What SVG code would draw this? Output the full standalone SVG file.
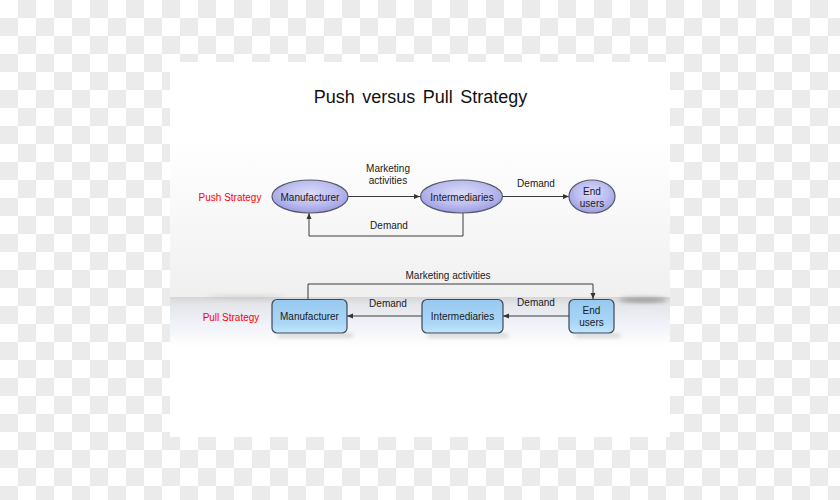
<svg xmlns="http://www.w3.org/2000/svg" width="840" height="500" viewBox="0 0 840 500">
  <defs>
    <pattern id="checker" width="36" height="36" patternUnits="userSpaceOnUse">
      <rect width="36" height="36" fill="#ffffff"/>
      <rect x="18" y="0" width="18" height="18" fill="#ebebeb"/>
      <rect x="0" y="18" width="18" height="18" fill="#ebebeb"/>
    </pattern>
    <linearGradient id="pushBand" x1="0" y1="0" x2="0" y2="1">
      <stop offset="0" stop-color="#ffffff"/>
      <stop offset="1" stop-color="#f0f0f0"/>
    </linearGradient>
    <linearGradient id="shelf" x1="0" y1="0" x2="0" y2="1">
      <stop offset="0" stop-color="#d6d6d6"/>
      <stop offset="0.15" stop-color="#e4e6ea"/>
      <stop offset="0.5" stop-color="#eef1f7"/>
      <stop offset="1" stop-color="#ffffff"/>
    </linearGradient>
    <radialGradient id="ellFill" cx="0.5" cy="0.4" r="0.6">
      <stop offset="0" stop-color="#dadaf8"/>
      <stop offset="0.6" stop-color="#bcbcf0"/>
      <stop offset="1" stop-color="#9c9ce2"/>
    </radialGradient>
    <linearGradient id="boxFill" x1="0" y1="0" x2="0" y2="1">
      <stop offset="0" stop-color="#98c9f0"/>
      <stop offset="0.7" stop-color="#aad6f7"/>
      <stop offset="1" stop-color="#c2e5fb"/>
    </linearGradient>
    <filter id="blur" x="-20%" y="-200%" width="140%" height="500%">
      <feGaussianBlur stdDeviation="2"/>
    </filter>
    <marker id="arr" markerWidth="6" markerHeight="6" refX="6" refY="3" orient="auto" markerUnits="userSpaceOnUse">
      <path d="M0,0.5 L6,3 L0,5.5 z" fill="#333"/>
    </marker>
    <style>
      .lbl { font-family: "Liberation Sans", Arial, sans-serif; font-size: 10px; fill: #1a1a1a; text-anchor: middle; }
      .red { font-family: "Liberation Sans", Arial, sans-serif; font-size: 10px; fill: #ff0000; text-anchor: middle; }
      .title { font-family: "Liberation Sans", Arial, sans-serif; font-size: 18px; fill: #111; text-anchor: middle; word-spacing: 2.5px; }
      .ell { fill: url(#ellFill); stroke: #555a66; stroke-width: 1.2; }
      .box { fill: url(#boxFill); stroke: #3c4856; stroke-width: 1.2; }
      .conn { fill: none; stroke: #3a3a3a; stroke-width: 1; }
      .shadow { fill: #9a9a9a; opacity: 0.5; filter: url(#blur); }
    </style>
  </defs>

  <!-- background -->
  <rect width="840" height="500" fill="url(#checker)"/>
  <rect x="170" y="62" width="500" height="375" fill="#ffffff"/>
  <rect x="170" y="140" width="500" height="157" fill="url(#pushBand)"/>
  <rect x="170" y="297" width="500" height="50" fill="url(#shelf)"/>
  <ellipse cx="643" cy="300" rx="24" ry="2.5" fill="#777" opacity="0.7" filter="url(#blur)"/>
  <ellipse cx="245" cy="297" rx="40" ry="1.5" fill="#bbb" opacity="0.6" filter="url(#blur)"/>

  <text class="title" x="420.5" y="103">Push versus Pull Strategy</text>

  <text class="red" x="230" y="200.5">Push Strategy</text>
  <text class="red" x="231" y="320.5">Pull Strategy</text>

  <!-- connectors -->
  <g id="connectors">
    <path class="conn" d="M348,196.5 H420" marker-end="url(#arr)"/>
    <path class="conn" d="M502,196.5 H569" marker-end="url(#arr)"/>
    <path class="conn" d="M463,213 V236 H309 V213" marker-end="url(#arr)"/>
    <path class="conn" d="M308,299 V284 H593 V299" marker-end="url(#arr)"/>
    <path class="conn" d="M422,316 H347" marker-end="url(#arr)"/>
    <path class="conn" d="M569,316 H503" marker-end="url(#arr)"/>
    <text class="lbl" x="388" y="171.5">Marketing</text>
    <text class="lbl" x="388" y="183.5">activities</text>
    <text class="lbl" x="536" y="186.5">Demand</text>
    <text class="lbl" x="389" y="228.5">Demand</text>
    <text class="lbl" x="448" y="278.5">Marketing activities</text>
    <text class="lbl" x="388" y="306.5">Demand</text>
    <text class="lbl" x="536" y="305.5">Demand</text>
  </g>

  <!-- push nodes -->
  <g id="push-manufacturer">
    <ellipse class="ell" cx="310" cy="196.5" rx="38" ry="16.5"/>
    <text class="lbl" x="310" y="200.5">Manufacturer</text>
  </g>
  <g id="push-intermediaries">
    <ellipse class="ell" cx="461.5" cy="196.5" rx="41" ry="16.5"/>
    <text class="lbl" x="462" y="200.5">Intermediaries</text>
  </g>
  <g id="push-endusers">
    <ellipse class="ell" cx="592" cy="196.5" rx="23" ry="16.5"/>
    <text class="lbl" x="592" y="194.5">End</text>
    <text class="lbl" x="592" y="206.5">users</text>
  </g>

  <!-- pull nodes -->
  <g id="pull-manufacturer">
    <rect class="shadow" x="278" y="334" width="75" height="3"/>
    <rect class="box" x="272" y="299.5" width="75" height="33.5" rx="5"/>
    <text class="lbl" x="309.5" y="319.5">Manufacturer</text>
  </g>
  <g id="pull-intermediaries">
    <rect class="shadow" x="428" y="334" width="80" height="3"/>
    <rect class="box" x="422" y="299.5" width="81" height="33.5" rx="5"/>
    <text class="lbl" x="462.5" y="319.5">Intermediaries</text>
  </g>
  <g id="pull-endusers">
    <rect class="shadow" x="575" y="334" width="45" height="3"/>
    <rect class="box" x="569" y="299.5" width="45" height="33.5" rx="5"/>
    <text class="lbl" x="591.5" y="313.5">End</text>
    <text class="lbl" x="591.5" y="326">users</text>
  </g>
</svg>
